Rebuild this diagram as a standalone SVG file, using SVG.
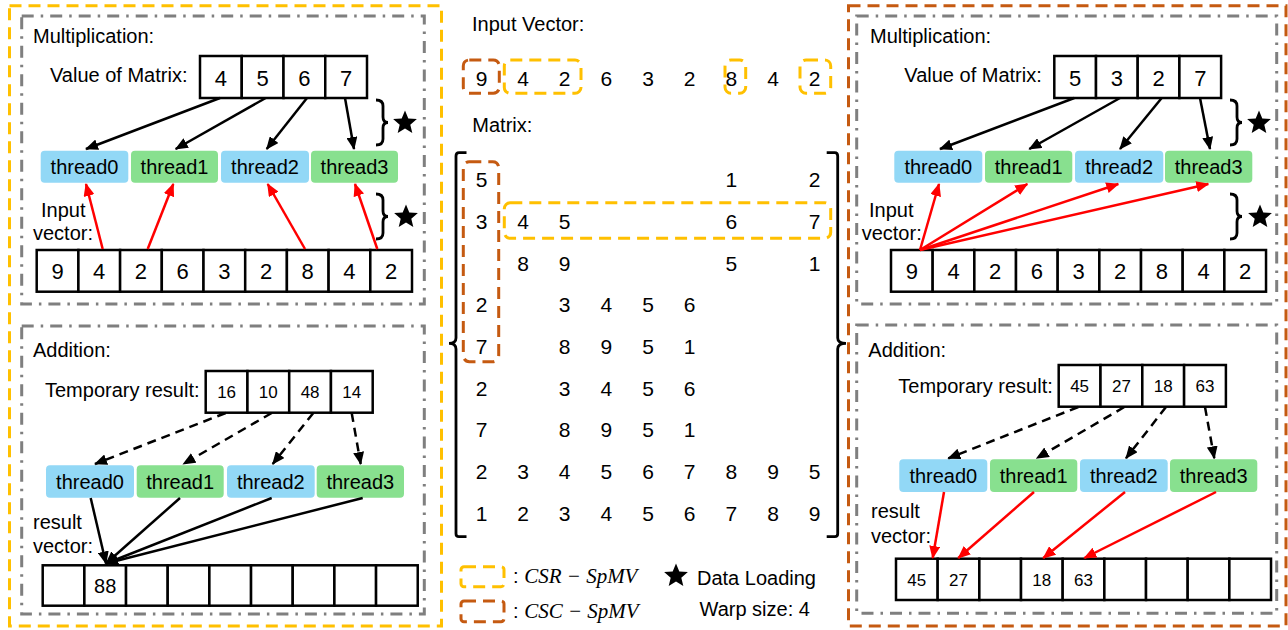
<svg xmlns="http://www.w3.org/2000/svg" width="1288" height="630" viewBox="0 0 1288 630">
<style>
text{font-family:"Liberation Sans",Arial,sans-serif;fill:#000}
.lbl{font-size:20px}
.num{font-size:22px;text-anchor:middle}
.mnum{font-size:21px;text-anchor:middle}
.snum{font-size:17px;text-anchor:middle}
.th{font-size:20px;text-anchor:middle}
.cell{fill:#fff;stroke:#000;stroke-width:2.5}
.tb{fill:#92D8F6}
.tg{fill:#88E08F}
.gray{fill:none;stroke:#7F7F7F;stroke-width:3;stroke-dasharray:12 7 2.5 7}
.yel{fill:none;stroke:#FFC000;stroke-width:3;stroke-dasharray:12 7}
.brn{fill:none;stroke:#C55A11;stroke-width:3;stroke-dasharray:12 7}
.ab{stroke:#000;stroke-width:2.5;fill:none;marker-end:url(#mb)}
.ad{stroke:#000;stroke-width:2.5;fill:none;stroke-dasharray:9 6;marker-end:url(#mb)}
.ar{stroke:#FF0000;stroke-width:2.5;fill:none;marker-end:url(#mr)}
.brace{fill:none;stroke:#000;stroke-width:2.8}
.math{font-family:"Liberation Serif","Times New Roman",serif;font-style:italic;font-size:21px}
</style>
<defs>
<marker id="mb" markerUnits="userSpaceOnUse" markerWidth="13" markerHeight="11" refX="12" refY="5.5" orient="auto"><path d="M0,0 L13,5.5 L0,11 z" fill="#000"/></marker>
<marker id="mr" markerUnits="userSpaceOnUse" markerWidth="13" markerHeight="11" refX="12" refY="5.5" orient="auto"><path d="M0,0 L13,5.5 L0,11 z" fill="#FF0000"/></marker>
<path id="star" d="M0,-12.5 L3.3,-4.5 L11.9,-3.9 L5.3,1.7 L7.3,10.1 L0,5.6 L-7.3,10.1 L-5.3,1.7 L-11.9,-3.9 L-3.3,-4.5 z" fill="#000"/>
<path id="br" d="M0,0 Q7,0 7,6 L7,17 Q7,22.5 12,22.5 Q7,22.5 7,28 L7,39 Q7,45 0,45"/>
</defs>

<!-- Outer frames -->
<rect class="yel" x="9.5" y="5.7" width="432" height="620.3"/>
<rect class="brn" x="848.5" y="5.7" width="437.5" height="620.3"/>

<!-- LEFT: Multiplication -->
<g id="left-mult">
<rect class="gray" x="21.7" y="16" width="402.6" height="288"/>
<text class="lbl" x="33" y="43">Multiplication:</text>
<text class="lbl" x="50" y="82">Value of Matrix:</text>
<rect class="cell" x="200" y="56" width="41.75" height="42"/>
<rect class="cell" x="241.75" y="56" width="41.75" height="42"/>
<rect class="cell" x="283.5" y="56" width="41.75" height="42"/>
<rect class="cell" x="325.25" y="56" width="41.75" height="42"/>
<text class="num" x="220.9" y="86">4</text>
<text class="num" x="262.6" y="86">5</text>
<text class="num" x="304.4" y="86">6</text>
<text class="num" x="346.1" y="86">7</text>
<rect class="tb" x="40.7" y="150.7" width="87.6" height="32" rx="4"/>
<rect class="tg" x="131" y="150.7" width="87" height="32" rx="4"/>
<rect class="tb" x="221" y="150.7" width="88" height="32" rx="4"/>
<rect class="tg" x="311" y="150.7" width="87" height="32" rx="4"/>
<text class="th" x="84.5" y="174">thread0</text>
<text class="th" x="174.5" y="174">thread1</text>
<text class="th" x="265" y="174">thread2</text>
<text class="th" x="354.5" y="174">thread3</text>
<text class="lbl" x="41" y="217">Input</text>
<text class="lbl" x="33" y="240">vector:</text>
<g>
<rect class="cell" x="36.7" y="250" width="41.7" height="41.7"/>
<rect class="cell" x="78.4" y="250" width="41.7" height="41.7"/>
<rect class="cell" x="120.1" y="250" width="41.7" height="41.7"/>
<rect class="cell" x="161.8" y="250" width="41.7" height="41.7"/>
<rect class="cell" x="203.5" y="250" width="41.7" height="41.7"/>
<rect class="cell" x="245.2" y="250" width="41.7" height="41.7"/>
<rect class="cell" x="286.9" y="250" width="41.7" height="41.7"/>
<rect class="cell" x="328.6" y="250" width="41.7" height="41.7"/>
<rect class="cell" x="370.3" y="250" width="41.7" height="41.7"/>
<text class="num" x="57.5" y="279.3">9</text>
<text class="num" x="99.2" y="279.3">4</text>
<text class="num" x="140.9" y="279.3">2</text>
<text class="num" x="182.6" y="279.3">6</text>
<text class="num" x="224.3" y="279.3">3</text>
<text class="num" x="266" y="279.3">2</text>
<text class="num" x="307.7" y="279.3">8</text>
<text class="num" x="349.4" y="279.3">4</text>
<text class="num" x="391.1" y="279.3">2</text>
</g>
<use href="#br" class="brace" x="376" y="100"/>
<use href="#star" x="405" y="123"/>
<use href="#br" class="brace" x="376" y="194"/>
<use href="#star" x="406" y="217"/>
</g>

<!-- LEFT: Addition -->
<g id="left-add">
<rect class="gray" x="21.7" y="326" width="402.6" height="288"/>
<text class="lbl" x="33" y="357">Addition:</text>
<text class="lbl" x="45" y="397">Temporary result:</text>
<rect class="cell" x="205.7" y="371" width="41.75" height="41.7"/>
<rect class="cell" x="247.45" y="371" width="41.75" height="41.7"/>
<rect class="cell" x="289.2" y="371" width="41.75" height="41.7"/>
<rect class="cell" x="330.95" y="371" width="41.75" height="41.7"/>
<text class="snum" x="226.6" y="398.3">16</text>
<text class="snum" x="268.3" y="398.3">10</text>
<text class="snum" x="310.1" y="398.3">48</text>
<text class="snum" x="351.8" y="398.3">14</text>
<rect class="tb" x="46" y="465.3" width="88" height="32.4" rx="4"/>
<rect class="tg" x="136.7" y="465.3" width="87" height="32.4" rx="4"/>
<rect class="tb" x="227" y="465.3" width="87.7" height="32.4" rx="4"/>
<rect class="tg" x="316.7" y="465.3" width="87.3" height="32.4" rx="4"/>
<text class="th" x="90" y="489">thread0</text>
<text class="th" x="180.2" y="489">thread1</text>
<text class="th" x="270.8" y="489">thread2</text>
<text class="th" x="360.3" y="489">thread3</text>
<text class="lbl" x="33" y="529">result</text>
<text class="lbl" x="33" y="553">vector:</text>
<rect class="cell" x="42.7" y="565.3" width="41.67" height="40.4"/>
<rect class="cell" x="84.37" y="565.3" width="41.67" height="40.4"/>
<rect class="cell" x="126.04" y="565.3" width="41.67" height="40.4"/>
<rect class="cell" x="167.71" y="565.3" width="41.67" height="40.4"/>
<rect class="cell" x="209.38" y="565.3" width="41.67" height="40.4"/>
<rect class="cell" x="251.05" y="565.3" width="41.67" height="40.4"/>
<rect class="cell" x="292.72" y="565.3" width="41.67" height="40.4"/>
<rect class="cell" x="334.39" y="565.3" width="41.67" height="40.4"/>
<rect class="cell" x="376.06" y="565.3" width="41.67" height="40.4"/>
<text class="lbl" x="105.2" y="593.3" text-anchor="middle">88</text>
</g>

<!-- MIDDLE -->
<g id="middle">
<text class="lbl" x="472" y="31">Input Vector:</text>
<text class="mnum" x="481.7" y="86">9</text>
<text class="mnum" x="523" y="86">4</text>
<text class="mnum" x="564.7" y="86">2</text>
<text class="mnum" x="606.3" y="86">6</text>
<text class="mnum" x="648" y="86">3</text>
<text class="mnum" x="689.7" y="86">2</text>
<text class="mnum" x="731.3" y="86">8</text>
<text class="mnum" x="773" y="86">4</text>
<text class="mnum" x="814.7" y="86">2</text>
<rect class="brn" x="463.3" y="60" width="36" height="33.3" rx="6"/>
<rect class="yel" x="504.3" y="60" width="76.7" height="33.3" rx="6"/>
<rect class="yel" x="725" y="60" width="20.7" height="33.3" rx="6"/>
<rect class="yel" x="800" y="60" width="30.7" height="33.3" rx="6"/>
<text class="lbl" x="472.3" y="132.3">Matrix:</text>
<path class="brace" d="M466.5,152.7 L459,152.7 Q456,152.7 456,156 L456,338 Q456,343.3 449,343.3 Q456,343.3 456,349 L456,533.7 Q456,536.7 459,536.7 L466.5,536.7"/>
<path class="brace" d="M826.7,152.7 L834.7,152.7 Q837.7,152.7 837.7,156 L837.7,338 Q837.7,343.3 846,343.3 Q837.7,343.3 837.7,349 L837.7,533.7 Q837.7,536.7 834.7,536.7 L826.7,536.7"/>
<g class="mrows">
<text class="mnum" x="481.7" y="187.3">5</text><text class="mnum" x="731.3" y="187.3">1</text><text class="mnum" x="814.7" y="187.3">2</text>
<text class="mnum" x="481.7" y="229">3</text><text class="mnum" x="523" y="229">4</text><text class="mnum" x="564.7" y="229">5</text><text class="mnum" x="731.3" y="229">6</text><text class="mnum" x="814.7" y="229">7</text>
<text class="mnum" x="523" y="270.7">8</text><text class="mnum" x="564.7" y="270.7">9</text><text class="mnum" x="731.3" y="270.7">5</text><text class="mnum" x="814.7" y="270.7">1</text>
<text class="mnum" x="481.7" y="312.3">2</text><text class="mnum" x="564.7" y="312.3">3</text><text class="mnum" x="606.3" y="312.3">4</text><text class="mnum" x="648" y="312.3">5</text><text class="mnum" x="689.7" y="312.3">6</text>
<text class="mnum" x="481.7" y="354">7</text><text class="mnum" x="564.7" y="354">8</text><text class="mnum" x="606.3" y="354">9</text><text class="mnum" x="648" y="354">5</text><text class="mnum" x="689.7" y="354">1</text>
<text class="mnum" x="481.7" y="395.7">2</text><text class="mnum" x="564.7" y="395.7">3</text><text class="mnum" x="606.3" y="395.7">4</text><text class="mnum" x="648" y="395.7">5</text><text class="mnum" x="689.7" y="395.7">6</text>
<text class="mnum" x="481.7" y="437.3">7</text><text class="mnum" x="564.7" y="437.3">8</text><text class="mnum" x="606.3" y="437.3">9</text><text class="mnum" x="648" y="437.3">5</text><text class="mnum" x="689.7" y="437.3">1</text>
<text class="mnum" x="481.7" y="479">2</text><text class="mnum" x="523" y="479">3</text><text class="mnum" x="564.7" y="479">4</text><text class="mnum" x="606.3" y="479">5</text><text class="mnum" x="648" y="479">6</text><text class="mnum" x="689.7" y="479">7</text><text class="mnum" x="731.3" y="479">8</text><text class="mnum" x="773" y="479">9</text><text class="mnum" x="814.7" y="479">5</text>
<text class="mnum" x="481.7" y="520.7">1</text><text class="mnum" x="523" y="520.7">2</text><text class="mnum" x="564.7" y="520.7">3</text><text class="mnum" x="606.3" y="520.7">4</text><text class="mnum" x="648" y="520.7">5</text><text class="mnum" x="689.7" y="520.7">6</text><text class="mnum" x="731.3" y="520.7">7</text><text class="mnum" x="773" y="520.7">8</text><text class="mnum" x="814.7" y="520.7">9</text>
</g>
<rect class="brn" x="463.3" y="161.7" width="35.4" height="200" rx="6"/>
<rect class="yel" x="504.3" y="202.7" width="326.4" height="35.6" rx="6"/>
</g>

<!-- Legend -->
<g id="legend">
<rect class="yel" x="461" y="566.7" width="43" height="20" rx="3"/>
<text x="513" y="583.3" class="lbl">: <tspan class="math">CSR − SpMV</tspan></text>
<rect class="brn" x="461" y="601" width="43" height="20.7" rx="3"/>
<text x="513" y="618.3" class="lbl">: <tspan class="math">CSC − SpMV</tspan></text>
<use href="#star" x="676" y="576"/>
<text class="lbl" x="697" y="585">Data Loading</text>
<text class="lbl" x="699.5" y="616">Warp size: 4</text>
</g>

<!-- RIGHT: Multiplication -->
<g id="right-mult">
<rect class="gray" x="856.7" y="16" width="420" height="288"/>
<text class="lbl" x="870" y="43">Multiplication:</text>
<text class="lbl" x="904.3" y="82">Value of Matrix:</text>
<rect class="cell" x="1054.3" y="56" width="41.7" height="42"/>
<rect class="cell" x="1096" y="56" width="41.7" height="42"/>
<rect class="cell" x="1137.7" y="56" width="41.7" height="42"/>
<rect class="cell" x="1179.4" y="56" width="41.7" height="42"/>
<text class="num" x="1075.2" y="86">5</text>
<text class="num" x="1116.9" y="86">3</text>
<text class="num" x="1158.6" y="86">2</text>
<text class="num" x="1200.3" y="86">7</text>
<rect class="tb" x="894.3" y="150.7" width="88" height="32" rx="4"/>
<rect class="tg" x="985" y="150.7" width="87.3" height="32" rx="4"/>
<rect class="tb" x="1075" y="150.7" width="88.3" height="32" rx="4"/>
<rect class="tg" x="1165" y="150.7" width="87.3" height="32" rx="4"/>
<text class="th" x="938.3" y="174">thread0</text>
<text class="th" x="1028.7" y="174">thread1</text>
<text class="th" x="1119.2" y="174">thread2</text>
<text class="th" x="1208.7" y="174">thread3</text>
<text class="lbl" x="869" y="217">Input</text>
<text class="lbl" x="861.7" y="240">vector:</text>
<rect class="cell" x="891" y="250" width="41.67" height="41.7"/>
<rect class="cell" x="932.67" y="250" width="41.67" height="41.7"/>
<rect class="cell" x="974.34" y="250" width="41.67" height="41.7"/>
<rect class="cell" x="1016.01" y="250" width="41.67" height="41.7"/>
<rect class="cell" x="1057.68" y="250" width="41.67" height="41.7"/>
<rect class="cell" x="1099.35" y="250" width="41.67" height="41.7"/>
<rect class="cell" x="1141.02" y="250" width="41.67" height="41.7"/>
<rect class="cell" x="1182.69" y="250" width="41.67" height="41.7"/>
<rect class="cell" x="1224.36" y="250" width="41.67" height="41.7"/>
<text class="num" x="911.8" y="279.3">9</text>
<text class="num" x="953.5" y="279.3">4</text>
<text class="num" x="995.2" y="279.3">2</text>
<text class="num" x="1036.8" y="279.3">6</text>
<text class="num" x="1078.5" y="279.3">3</text>
<text class="num" x="1120.2" y="279.3">2</text>
<text class="num" x="1161.9" y="279.3">8</text>
<text class="num" x="1203.5" y="279.3">4</text>
<text class="num" x="1245.2" y="279.3">2</text>
<use href="#br" class="brace" x="1230" y="100"/>
<use href="#star" x="1259" y="123"/>
<use href="#br" class="brace" x="1230" y="194"/>
<use href="#star" x="1260" y="217"/>
</g>

<!-- RIGHT: Addition -->
<g id="right-add">
<rect class="gray" x="856.7" y="325" width="420" height="288.3"/>
<text class="lbl" x="868.3" y="357">Addition:</text>
<text class="lbl" x="898.3" y="392.7">Temporary result:</text>
<rect class="cell" x="1058.7" y="365" width="41.8" height="41.7"/>
<rect class="cell" x="1100.5" y="365" width="41.8" height="41.7"/>
<rect class="cell" x="1142.3" y="365" width="41.8" height="41.7"/>
<rect class="cell" x="1184.1" y="365" width="41.8" height="41.7"/>
<text class="snum" x="1079.6" y="392.3">45</text>
<text class="snum" x="1121.4" y="392.3">27</text>
<text class="snum" x="1163.2" y="392.3">18</text>
<text class="snum" x="1205" y="392.3">63</text>
<rect class="tb" x="899.3" y="459.3" width="88" height="32.7" rx="4"/>
<rect class="tg" x="990" y="459.3" width="87.3" height="32.7" rx="4"/>
<rect class="tb" x="1080" y="459.3" width="87.7" height="32.7" rx="4"/>
<rect class="tg" x="1170" y="459.3" width="87.3" height="32.7" rx="4"/>
<text class="th" x="943.3" y="483.3">thread0</text>
<text class="th" x="1033.7" y="483.3">thread1</text>
<text class="th" x="1123.8" y="483.3">thread2</text>
<text class="th" x="1213.7" y="483.3">thread3</text>
<text class="lbl" x="871" y="518.3">result</text>
<text class="lbl" x="871" y="543.3">vector:</text>
<rect class="cell" x="896" y="558.7" width="41.67" height="41.3"/>
<rect class="cell" x="937.67" y="558.7" width="41.67" height="41.3"/>
<rect class="cell" x="979.34" y="558.7" width="41.67" height="41.3"/>
<rect class="cell" x="1021.01" y="558.7" width="41.67" height="41.3"/>
<rect class="cell" x="1062.68" y="558.7" width="41.67" height="41.3"/>
<rect class="cell" x="1104.35" y="558.7" width="41.67" height="41.3"/>
<rect class="cell" x="1146.02" y="558.7" width="41.67" height="41.3"/>
<rect class="cell" x="1187.69" y="558.7" width="41.67" height="41.3"/>
<rect class="cell" x="1229.36" y="558.7" width="41.67" height="41.3"/>
<text class="snum" x="916.8" y="586">45</text>
<text class="snum" x="958.5" y="586">27</text>
<text class="snum" x="1041.8" y="586">18</text>
<text class="snum" x="1083.5" y="586">63</text>
</g>

<!-- Connectors -->
<g id="connectors">
<line class="ab" x1="220" y1="98" x2="86" y2="149"/>
<line class="ab" x1="265.7" y1="98" x2="175.7" y2="149"/>
<line class="ab" x1="307" y1="98" x2="266.7" y2="149"/>
<line class="ab" x1="345" y1="98" x2="354" y2="149"/>
<line class="ar" x1="102.7" y1="249" x2="86" y2="184"/>
<line class="ar" x1="147.7" y1="249" x2="173.3" y2="184"/>
<line class="ar" x1="305" y1="249" x2="267.7" y2="184"/>
<line class="ar" x1="377.3" y1="249" x2="355" y2="184"/>
<line class="ad" x1="225.7" y1="413" x2="95" y2="464"/>
<line class="ad" x1="271.7" y1="413" x2="183.3" y2="464"/>
<line class="ad" x1="313.3" y1="413" x2="272.7" y2="464"/>
<line class="ad" x1="351.7" y1="413" x2="360.7" y2="464"/>
<line class="ab" x1="90.7" y1="498" x2="106" y2="563.5"/>
<line class="ab" x1="180" y1="498" x2="106" y2="563.5"/>
<line class="ab" x1="271.7" y1="498" x2="106" y2="563.5"/>
<line class="ab" x1="362.7" y1="498" x2="106" y2="563.5"/>
<line class="ab" x1="1074.3" y1="98" x2="940" y2="149"/>
<line class="ab" x1="1120" y1="98" x2="1029.3" y2="149"/>
<line class="ab" x1="1161.7" y1="98" x2="1120" y2="149"/>
<line class="ab" x1="1200" y1="98" x2="1210" y2="149"/>
<line class="ar" x1="920" y1="250" x2="939" y2="184"/>
<line class="ar" x1="920" y1="250" x2="1027.3" y2="184"/>
<line class="ar" x1="920" y1="250" x2="1118.3" y2="184"/>
<line class="ar" x1="920" y1="250" x2="1208.3" y2="184"/>
<line class="ad" x1="1078.3" y1="407" x2="948.3" y2="458.3"/>
<line class="ad" x1="1124.3" y1="407" x2="1036.7" y2="458.3"/>
<line class="ad" x1="1166" y1="407" x2="1126" y2="458.3"/>
<line class="ad" x1="1205" y1="407" x2="1214.3" y2="458.3"/>
<line class="ar" x1="944" y1="492" x2="932.7" y2="558"/>
<line class="ar" x1="1034" y1="492" x2="958.3" y2="558"/>
<line class="ar" x1="1125" y1="492" x2="1043.3" y2="558"/>
<line class="ar" x1="1216" y1="492" x2="1084.3" y2="558"/>
</g>
</svg>
